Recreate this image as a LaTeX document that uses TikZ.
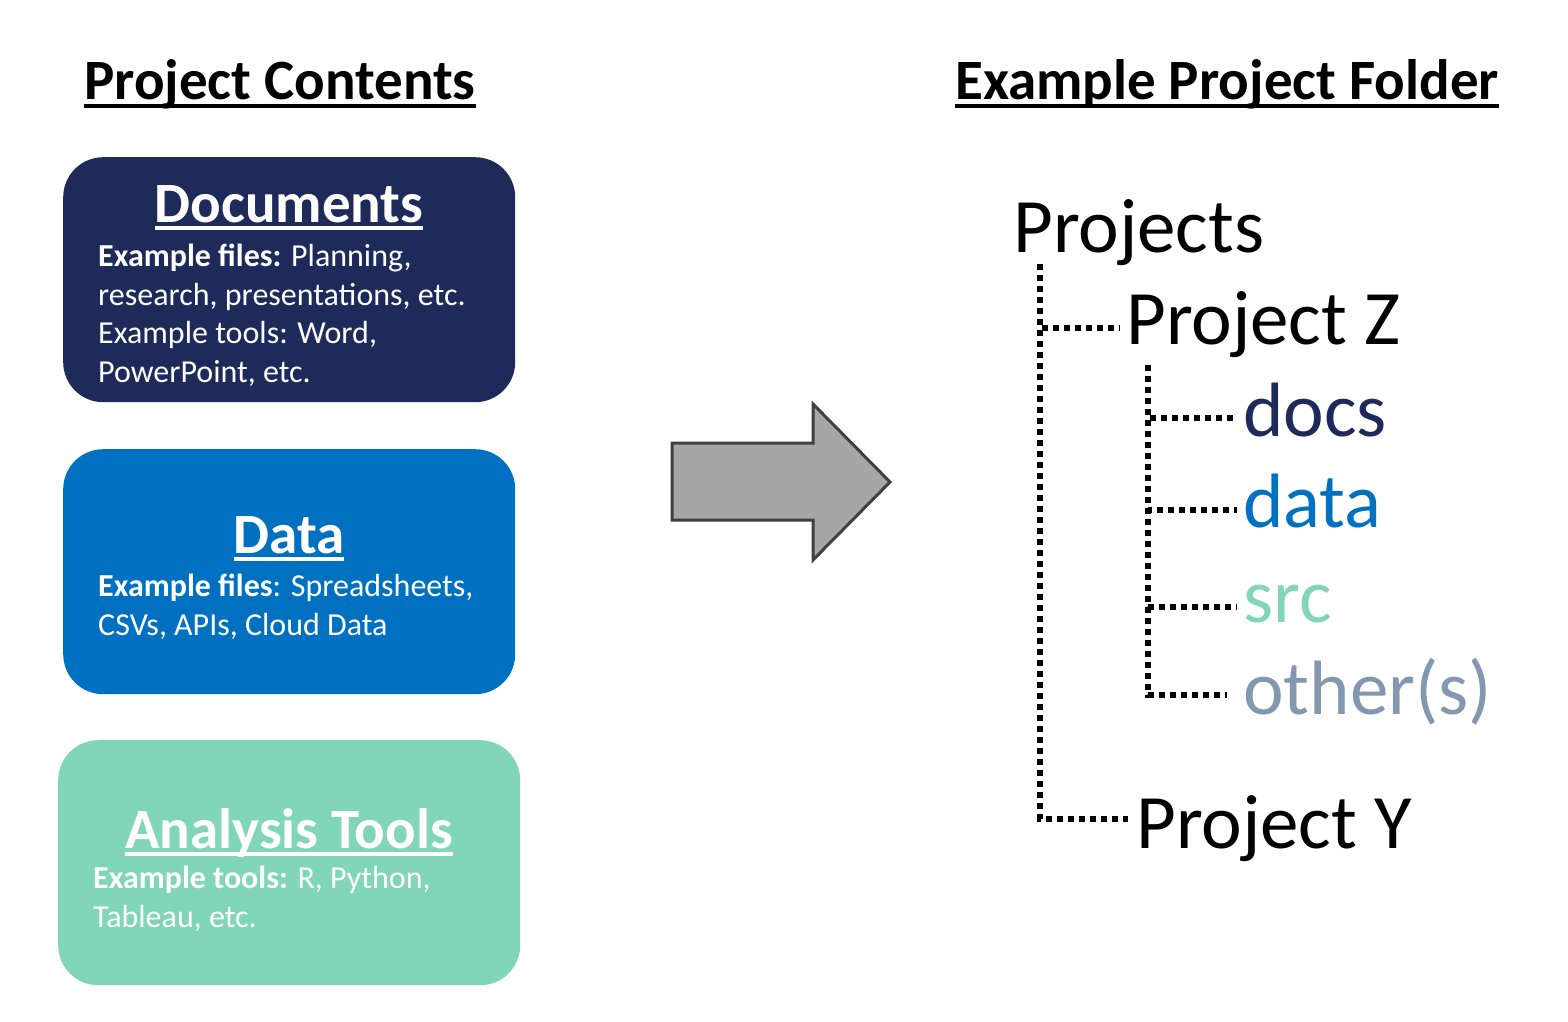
\documentclass[tikz,border=0pt]{standalone}
\usepackage{fontspec}
\setmainfont{Carlito}
\usetikzlibrary{calc}

\definecolor{docnavy}{RGB}{29,42,90}
\definecolor{datablue}{RGB}{0,112,192}
\definecolor{toolmint}{RGB}{129,213,184}
\definecolor{othergray}{RGB}{132,151,176}
\definecolor{arrowfill}{RGB}{166,166,166}
\definecolor{arrowline}{RGB}{64,64,64}

% underline drawn as a rule below the text
\newcommand{\undl}[1]{\sbox0{#1}\rlap{\rule[-0.14em]{\wd0}{0.065em}}\usebox0}

\begin{document}
\begin{tikzpicture}[x=1pt,y=-1pt]
\tikzstyle{heading} = [anchor=base west, inner sep=0pt, font=\fontsize{57}{60}\selectfont\bfseries]
\tikzstyle{card} = [rounded corners=40pt, minimum width=452pt, minimum height=245pt, inner sep=0pt, anchor=north west]
\tikzstyle{cardtitle} = [anchor=base, inner sep=0pt, text=white, font=\fontsize{57}{60}\selectfont\bfseries]
\tikzstyle{cardtext} = [anchor=north west, inner sep=0pt, align=left, text=white, font=\fontsize{32}{38.5}\selectfont]
\tikzstyle{folder} = [anchor=base west, inner sep=0pt, font=\fontsize{77}{80}\selectfont]
\tikzstyle{branch} = [draw, line width=6pt, dash pattern=on 6pt off 5pt]

\useasboundingbox (0,0) rectangle (1568,1022);

% left column
\node[heading] (contents) at (84,100) {\undl{Project Contents}};

\node[card, fill=docnavy] (docbox) at (63,157) {};
\node[cardtitle] (doctitle) at (289,222) {\undl{Documents}};
\node[cardtext] (doctext) at (98,244)
{\textbf{Example files:} Planning,\\
research, presentations, etc.\\
Example tools: Word,\\
PowerPoint, etc.};

\node[card, fill=datablue] (databox) at (63,449) {};
\node[cardtitle] (datatitle) at (289,553) {\undl{Data}};
\node[cardtext] (datatext) at (98,574)
{\textbf{Example files}: Spreadsheets,\\
CSVs, APIs, Cloud Data};

\node[card, fill=toolmint, minimum width=462pt] (toolbox) at (58,740) {};
\node[cardtitle] (tooltitle) at (289,848) {\undl{Analysis Tools}};
\node[cardtext] (tooltext) at (93,866)
{\textbf{Example tools:} R, Python,\\
Tableau, etc.};

% big arrow
\draw[fill=arrowfill, draw=arrowline, line width=3pt, line join=miter]
(672,443) -- (813,443) -- (813,404) -- (890,482) -- (813,560) -- (813,520) -- (672,520) -- cycle;

% right column
\node[heading] (folder) at (955,100) {\undl{Example Project Folder}};

\node[folder] (projects) at (1013,252) {Projects};
\node[folder] (projz) at (1126,344) {Project Z};
\node[folder, text=docnavy] (docs) at (1243,436) {docs};
\node[folder, text=datablue] (data) at (1243,527) {data};
\node[folder, text=toolmint] (src) at (1243,622) {src};
\node[folder, text=othergray] (others) at (1243,714) {other(s)};
\node[folder] (projy) at (1136,848) {Project Y};

\coordinate (trunk) at (1040,264);
\coordinate (subtrunk) at (1148,365);

\path[branch] (trunk) |- ([xshift=-6pt,yshift=16pt]projz.base west);
\path[branch] (trunk) |- ([xshift=-8pt,yshift=29pt]projy.base west);
\path[branch] (subtrunk) |- ([xshift=-6pt,yshift=18pt]docs.base west);
\path[branch] (subtrunk) |- ([xshift=-6pt,yshift=17pt]data.base west);
\path[branch] (subtrunk) |- ([xshift=-6pt,yshift=15pt]src.base west);
\path[branch] (subtrunk) |- ([xshift=-16pt,yshift=19pt]others.base west);

\end{tikzpicture}
\end{document}
